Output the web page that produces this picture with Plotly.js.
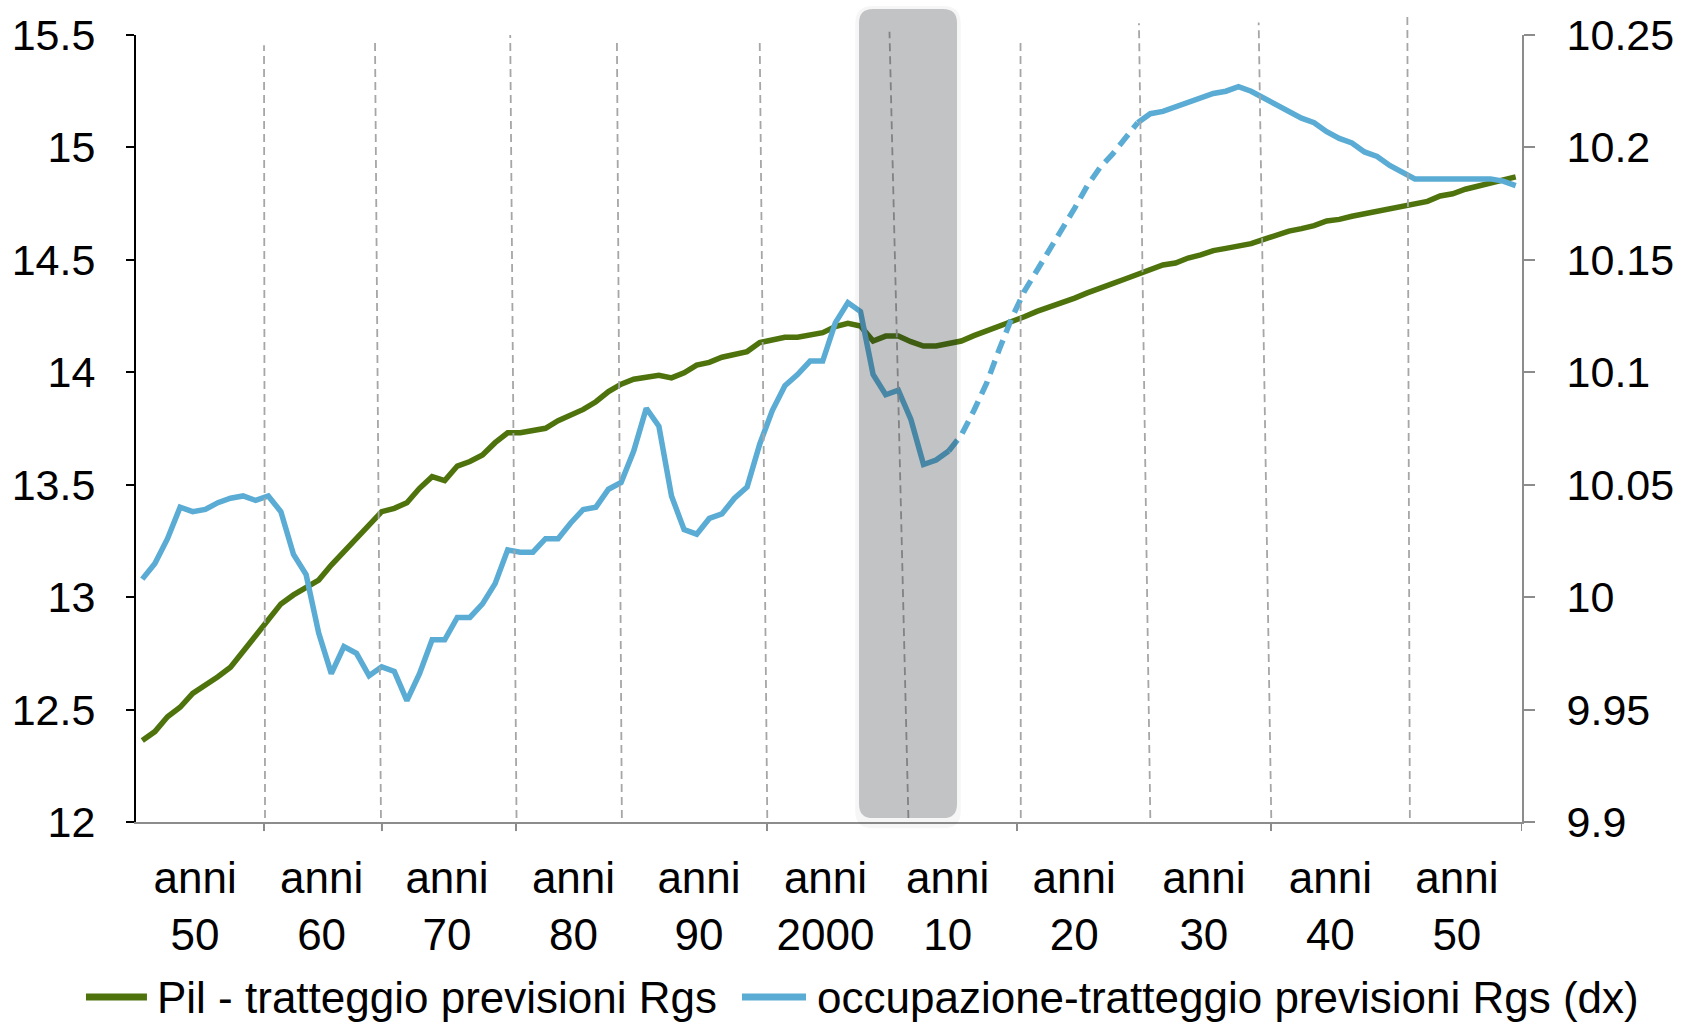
<!DOCTYPE html>
<html>
<head>
<meta charset="utf-8">
<script src="https://cdn.plot.ly/plotly-3.0.1.min.js"></script>
<style>html,body{margin:0;padding:0;background:#fff;}#chart{width:1681px;height:1026px;}</style>
</head>
<body>
<div id="chart"></div>
<script>
// ---- data ----
const firstYear = 1951;
const lastYear = 2060;
const years = [];
for (let y = firstYear; y <= lastYear; y++) years.push(y);

// Pil (left axis), 1951-2060
const pil = [
  12.362, 12.402, 12.468, 12.510, 12.572, 12.606, 12.646, 12.688, 12.757, 12.824,
  12.898, 12.970, 13.010, 13.044, 13.076, 13.143, 13.202, 13.269, 13.325, 13.380,
  13.395, 13.420, 13.484, 13.536, 13.518, 13.583, 13.603, 13.632, 13.687, 13.731,
  13.731, 13.740, 13.751, 13.785, 13.807, 13.835, 13.869, 13.914, 13.947, 13.969,
  13.978, 13.987, 13.975, 13.998, 14.032, 14.044, 14.067, 14.078, 14.092, 14.132,
  14.147, 14.156, 14.156, 14.166, 14.176, 14.203, 14.218, 14.206, 14.139, 14.161,
  14.161, 14.136, 14.117, 14.117, 14.126, 14.139, 14.163, 14.184, 14.201, 14.225,
  14.247, 14.271, 14.289, 14.310, 14.330, 14.353, 14.376, 14.394, 14.415, 14.437,
  14.456, 14.477, 14.486, 14.508, 14.522, 14.541, 14.551, 14.560, 14.572, 14.591,
  14.611, 14.628, 14.639, 14.652, 14.673, 14.680, 14.694, 14.705, 14.716, 14.728,
  14.736, 14.747, 14.760, 14.784, 14.794, 14.814, 14.829, 14.845, 14.858, 14.869
];

// occupazione (right axis), 1951-2060
const occupazione = [
  10.008, 10.015, 10.026, 10.040, 10.038, 10.039, 10.042, 10.044, 10.045, 10.043,
  10.045, 10.038, 10.019, 10.010, 9.984, 9.966, 9.978, 9.975, 9.965, 9.969,
  9.967, 9.954, 9.966, 9.981, 9.981, 9.991, 9.991, 9.997, 10.006, 10.021,
  10.020, 10.020, 10.026, 10.026, 10.033, 10.039, 10.040, 10.048, 10.051, 10.065,
  10.084, 10.076, 10.045, 10.030, 10.028, 10.035, 10.037, 10.044, 10.049, 10.068,
  10.083, 10.094, 10.099, 10.105, 10.105, 10.122, 10.131, 10.127, 10.099, 10.090,
  10.092, 10.079, 10.059, 10.061, 10.065, 10.072, 10.083, 10.095, 10.110, 10.124,
  10.136, 10.145, 10.154, 10.164, 10.173, 10.183, 10.191, 10.197, 10.204, 10.211,
  10.215, 10.216, 10.218, 10.220, 10.222, 10.224, 10.225, 10.227, 10.225, 10.222,
  10.219, 10.216, 10.213, 10.211, 10.207, 10.204, 10.202, 10.198, 10.196, 10.192,
  10.189, 10.186, 10.186, 10.186, 10.186, 10.186, 10.186, 10.186, 10.185, 10.183
];

// dashed (forecast) stretch of the employment series
const dashFromYear = 2015;
const dashToYear = 2030;

const seriesNames = ['Pil - tratteggio previsioni Rgs', 'occupazione-tratteggio previsioni Rgs (dx)'];

// x-axis labels
const labelPositions = [1955.19, 1965.23, 1975.18, 1985.22, 1995.18, 2005.22, 2014.92, 2024.96, 2035.25, 2045.29, 2055.33];
const labelDecades = ['50', '60', '70', '80', '90', '2000', '10', '20', '30', '40', '50'];
const labelPrefix = 'anni';

// x-axis tick marks
const tickMarks = [1960.66, 1970.02, 1980.66, 2000.58, 2020.42, 2040.58, 2060.5];

// dashed vertical separators: x at top, x at bottom, top (paper y)
const sepTopX = [1960.66, 1969.47, 1980.20, 1988.67, 2000.00, 2010.30, 2020.70, 2030.10, 2039.60, 2051.40];
const sepBottomX = [1960.74, 1969.94, 1980.70, 1989.06, 2000.60, 2011.80, 2020.72, 2031.00, 2040.60, 2051.60];
const sepTopY = [0.987, 0.990, 1.000, 0.990, 0.996, 1.004, 0.996, 1.015, 1.016, 1.028];

// grey crisis band
const bandFrom = 2007.88;
const bandTo = 2015.66;

// ---- build ----
const GREEN = '#4e730c';
const BLUE = '#5aacd4';
const FONT = 'Liberation Sans, Arial, sans-serif';
const colors = [GREEN, BLUE];

const i0 = years.indexOf(dashFromYear);
const i1 = years.indexOf(dashToYear);

const traces = [
  {x: years, y: pil, type: 'scatter', mode: 'lines', name: seriesNames[0],
   line: {color: GREEN, width: 5.5}, yaxis: 'y'},
  {x: years.slice(0, i0 + 1), y: occupazione.slice(0, i0 + 1), type: 'scatter', mode: 'lines',
   name: seriesNames[1], line: {color: BLUE, width: 5.5}, yaxis: 'y2'},
  {x: years.slice(i0, i1 + 1), y: occupazione.slice(i0, i1 + 1), type: 'scatter', mode: 'lines',
   name: seriesNames[1], line: {color: BLUE, width: 5.5, dash: '14px,8px'}, yaxis: 'y2'},
  {x: years.slice(i1), y: occupazione.slice(i1), type: 'scatter', mode: 'lines',
   name: seriesNames[1], line: {color: BLUE, width: 5.5}, yaxis: 'y2'}
];

const shapes = [];
sepTopX.forEach((xt, k) => {
  shapes.push({type: 'line', xref: 'x', yref: 'paper', layer: 'above',
    x0: sepBottomX[k], y0: 0.005, x1: xt, y1: sepTopY[k],
    line: {color: '#a6a6a6', width: 1.8, dash: '8px,5px'}});
});
tickMarks.forEach(xv => {
  shapes.push({type: 'line', xref: 'x', yref: 'paper', layer: 'above',
    x0: xv, x1: xv, y0: 0, y1: -0.0115, line: {color: '#8c8c8c', width: 2}});
});

function roundRect(x0, x1, y0, y1, rx, ry) {
  return 'M' + (x0 + rx) + ',' + y0 + ' L' + (x1 - rx) + ',' + y0 +
    ' Q' + x1 + ',' + y0 + ' ' + x1 + ',' + (y0 + ry) +
    ' L' + x1 + ',' + (y1 - ry) +
    ' Q' + x1 + ',' + y1 + ' ' + (x1 - rx) + ',' + y1 +
    ' L' + (x0 + rx) + ',' + y1 +
    ' Q' + x0 + ',' + y1 + ' ' + x0 + ',' + (y1 - ry) +
    ' L' + x0 + ',' + (y0 + ry) +
    ' Q' + x0 + ',' + y0 + ' ' + (x0 + rx) + ',' + y0 + ' Z';
}
// soft shadow + band
shapes.push({type: 'path', xref: 'x', yref: 'paper', layer: 'above',
  path: roundRect(bandFrom - 0.3, bandTo + 0.3, -0.008, 1.037, 1.4, 0.022),
  fillcolor: 'rgba(0,0,0,0.035)', line: {width: 0}});
shapes.push({type: 'path', xref: 'x', yref: 'paper', layer: 'above',
  path: roundRect(bandFrom, bandTo, 0.005, 1.033, 1.1, 0.018),
  fillcolor: 'rgba(30,35,45,0.245)', line: {width: 0}});

// legend (drawn below the axis labels, as in the reference)
const legendY = -0.2224;
const legendSwatchX = [[-0.0361, 0.0079], [0.4372, 0.4834]];
const legendTextX = [0.0137, 0.4899];
const annotations = [];
seriesNames.forEach((nm, k) => {
  shapes.push({type: 'line', xref: 'paper', yref: 'paper', layer: 'above',
    x0: legendSwatchX[k][0], x1: legendSwatchX[k][1], y0: legendY, y1: legendY,
    line: {color: colors[k], width: 7}});
  annotations.push({xref: 'paper', yref: 'paper', x: legendTextX[k], y: legendY,
    xanchor: 'left', yanchor: 'middle', text: nm, showarrow: false,
    font: {family: FONT, size: 44, color: '#000000'}});
});

const layout = {
  width: 1681, height: 1026,
  margin: {l: 136, r: 159, t: 35, b: 204, pad: 0, autoexpand: false},
  paper_bgcolor: '#ffffff', plot_bgcolor: '#ffffff',
  font: {family: FONT, size: 44, color: '#000000'},
  showlegend: false,
  xaxis: {range: [1950.5, 2060.5], showgrid: false, zeroline: false, automargin: false,
    showline: true, linecolor: '#8c8c8c', linewidth: 2, ticks: '',
    tickvals: labelPositions, ticktext: labelDecades.map(d => labelPrefix + '<br>' + d),
    tickfont: {family: FONT, size: 44, color: '#000000'}, ticklabelstandoff: 16},
  yaxis: {range: [12, 15.5], dtick: 0.5, tick0: 12, showgrid: false, zeroline: false, automargin: false,
    showline: true, linecolor: '#000000', linewidth: 2,
    ticks: 'outside', ticklen: 8, tickwidth: 2, tickcolor: '#000000',
    tickfont: {family: FONT, size: 43, color: '#000000'}, ticklabelstandoff: 22},
  yaxis2: {range: [9.9, 10.25], dtick: 0.05, tick0: 9.9, overlaying: 'y', side: 'right', automargin: false,
    showgrid: false, zeroline: false, showline: true, linecolor: '#8c8c8c', linewidth: 2,
    ticks: 'outside', ticklen: 11, tickwidth: 2, tickcolor: '#8c8c8c',
    tickfont: {family: FONT, size: 43, color: '#000000'}, ticklabelstandoff: 23},
  shapes: shapes,
  annotations: annotations
};

Plotly.newPlot('chart', traces, layout, {displayModeBar: false, staticPlot: true});
</script>
</body>
</html>
